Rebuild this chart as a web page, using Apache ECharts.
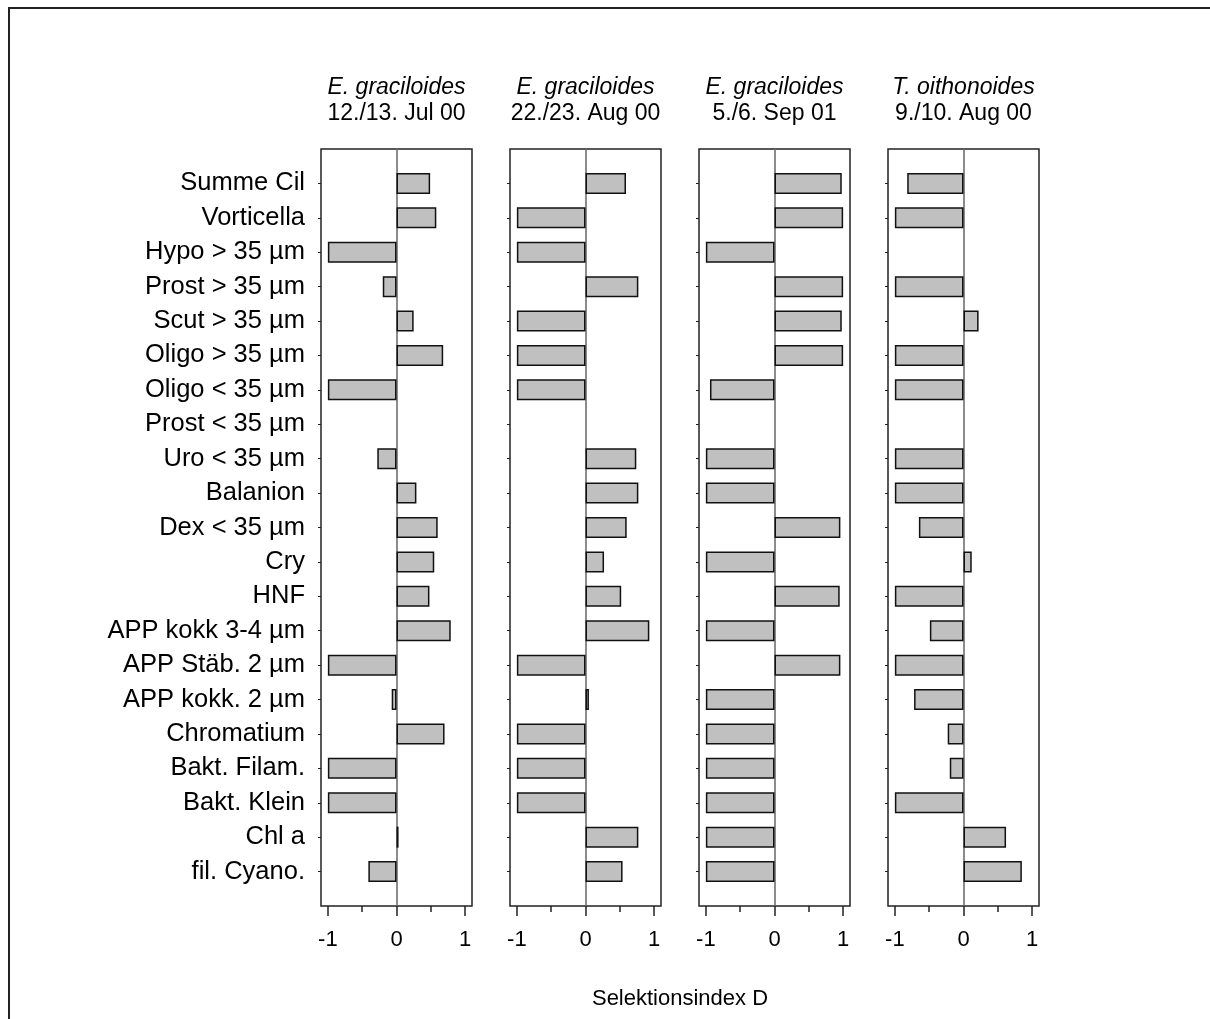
<!DOCTYPE html>
<html>
<head>
<meta charset="utf-8">
<script src="https://cdn.jsdelivr.net/npm/echarts@6/dist/echarts.min.js"></script>
<style>
  html, body { margin: 0; padding: 0; background: #fff; }
  #wrap { position: relative; width: 1210px; height: 1019px; overflow: hidden; }
  #frame { position: absolute; left: 8px; top: 7px; width: 1400px; height: 1200px;
           border-top: 2px solid #222; border-left: 2px solid #222; box-sizing: border-box; }
  #chart { position: absolute; left: 0; top: 0; width: 1210px; height: 1019px; }
</style>
</head>
<body>
<div id="wrap">
  <div id="frame"></div>
  <div id="chart"></div>
</div>
<script>
// Food categories (top to bottom)
const categories = [
  'Summe Cil', 'Vorticella', 'Hypo > 35 µm', 'Prost > 35 µm', 'Scut > 35 µm',
  'Oligo > 35 µm', 'Oligo < 35 µm', 'Prost < 35 µm', 'Uro < 35 µm', 'Balanion',
  'Dex < 35 µm', 'Cry', 'HNF', 'APP kokk 3-4 µm', 'APP Stäb. 2 µm',
  'APP kokk. 2 µm', 'Chromatium', 'Bakt. Filam.', 'Bakt. Klein', 'Chl a', 'fil. Cyano.'
];

// Panel headings: species and sampling date
const species = ['E. graciloides', 'E. graciloides', 'E. graciloides', 'T. oithonoides'];
const dates = ['12./13. Jul 00', '22./23. Aug 00', '5./6. Sep 01', '9./10. Aug 00'];

// Selection index D per category (null = not determined)
const jul00 = [0.49, 0.58, -1, -0.2, 0.25, 0.68, -1, null, -0.28, 0.29, 0.6, 0.55, 0.48, 0.79, -1, -0.07, 0.7, -1, -1, 0.03, -0.41];
const aug00 = [0.59, -1, -1, 0.77, -1, -1, -1, null, 0.74, 0.77, 0.6, 0.27, 0.52, 0.93, -1, 0.05, -1, -1, -1, 0.77, 0.54];
const sep01 = [0.98, 1.0, -1, 1.0, 0.98, 1.0, -0.94, null, -1, -1, 0.96, -1, 0.95, -1, 0.96, -1, -1, -1, -1, -1, -1];
const tAug00 = [-0.82, -1, null, -1, 0.22, -1, -1, null, -1, -1, -0.65, 0.12, -1, -0.49, -1, -0.72, -0.23, -0.2, -1, 0.62, 0.85];

const panels = [jul00, aug00, sep01, tAug00];

// Axis ticks
const majorTicks = [-1, 0, 1];
const minorTicks = [-0.5, 0.5];

// Layout
const FONT = '"Liberation Sans", Arial, sans-serif';
const boxLeft = 321, boxStep = 189, boxWidth = 151, boxTop = 149, boxHeight = 757;
const band = boxHeight / (categories.length + 1);
const X_MIN = -1.1, X_MAX = 1.1;

const chart = echarts.init(document.getElementById('chart'), null, { renderer: 'canvas' });

const grid = [], xAxis = [], yAxis = [], series = [], graphic = [];

panels.forEach((vals, p) => {
  const left = boxLeft + p * boxStep;
  // frame grid (box, zero line, bottom ticks)
  const fg = grid.length;
  grid.push({ left: left, top: boxTop, width: boxWidth, height: boxHeight,
              show: true, borderColor: '#222', borderWidth: 1.5, backgroundColor: 'transparent' });
  // data grid (bars, category ticks)
  const dg = grid.length;
  grid.push({ left: left, top: boxTop + band / 2, width: boxWidth, height: boxHeight - band,
              show: false });

  // frame x axis: major ticks + labels
  xAxis.push({ gridIndex: fg, type: 'value', min: X_MIN, max: X_MAX, position: 'bottom',
    axisLine: { show: false, onZero: false },
    splitLine: { show: false },
    axisTick: { show: true, length: 10, customValues: majorTicks, lineStyle: { color: '#222', width: 1.5 } },
    axisLabel: { show: true, customValues: majorTicks, margin: 23, fontFamily: FONT, fontSize: 22, color: '#000' } });
  // frame x axis: minor ticks
  xAxis.push({ gridIndex: fg, type: 'value', min: X_MIN, max: X_MAX, position: 'bottom',
    axisLine: { show: false, onZero: false },
    splitLine: { show: false },
    axisTick: { show: true, length: 6, customValues: minorTicks, lineStyle: { color: '#222', width: 1.5 } },
    axisLabel: { show: false } });
  // frame y axis: drawn on x = 0 as the zero line
  yAxis.push({ gridIndex: fg, type: 'value', min: 0, max: 1,
    axisLine: { show: true, onZero: true, lineStyle: { color: '#666', width: 1.5 } },
    axisTick: { show: false }, axisLabel: { show: false }, splitLine: { show: false } });

  // data x axis (hidden)
  const dx = xAxis.length;
  xAxis.push({ gridIndex: dg, type: 'value', min: X_MIN, max: X_MAX, show: false });
  // data y axis (categories) on the left edge of the box
  const dy = yAxis.length;
  yAxis.push({ gridIndex: dg, type: 'category', data: categories, inverse: true, position: 'left',
    axisLine: { show: false, onZero: false },
    axisTick: { show: true, alignWithLabel: true, interval: 0, length: 3, lineStyle: { color: '#222', width: 1 } },
    axisLabel: { show: p === 0, interval: 0, hideOverlap: false, margin: 16,
                 fontFamily: FONT, fontSize: 25.5, color: '#000' },
    splitLine: { show: false } });

  series.push({ type: 'bar', xAxisIndex: dx, yAxisIndex: dy, data: vals,
    barWidth: 21, silent: true,
    itemStyle: { color: '#c0c0c0', borderColor: '#111', borderWidth: 1.5 } });

  // panel heading
  const cx = left + boxWidth / 2;
  graphic.push({ type: 'text', x: cx, y: 88, silent: true,
    style: { text: species[p], font: 'italic 23px ' + FONT, fill: '#000', align: 'center', verticalAlign: 'middle' } });
  graphic.push({ type: 'text', x: cx, y: 114, silent: true,
    style: { text: dates[p], font: '23px ' + FONT, fill: '#000', align: 'center', verticalAlign: 'middle' } });
});

// common axis title
const lastRight = boxLeft + 3 * boxStep + boxWidth;
graphic.push({ type: 'text', x: (boxLeft + lastRight) / 2, y: 999, silent: true,
  style: { text: 'Selektionsindex D', font: '22px ' + FONT, fill: '#000', align: 'center', verticalAlign: 'middle' } });

chart.setOption({
  animation: false,
  backgroundColor: 'transparent',
  grid: grid,
  xAxis: xAxis,
  yAxis: yAxis,
  series: series,
  graphic: graphic
});
</script>
</body>
</html>
